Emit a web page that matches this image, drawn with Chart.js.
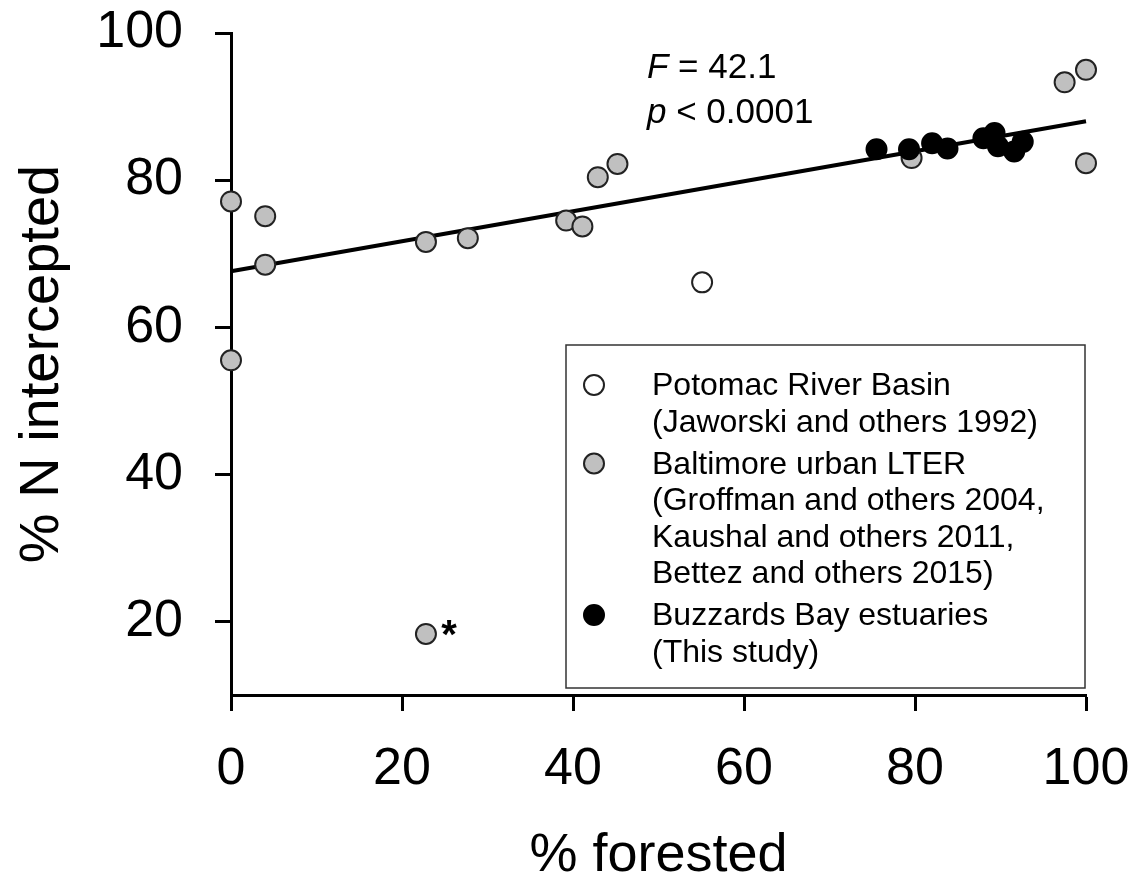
<!DOCTYPE html>
<html>
<head>
<meta charset="utf-8">
<script src="https://cdn.jsdelivr.net/npm/chart.js@4.4.0/dist/chart.umd.min.js"></script>
<style>
  html, body { margin: 0; padding: 0; background: #fff; }
  #wrap { width: 1139px; height: 884px; }
</style>
</head>
<body>
<div id="wrap"><canvas id="graph1" width="1139" height="884"></canvas></div>
<script>
// data
var potomacX = [55.1];
var potomacY = [66.1];
var baltimoreX = [0, 0, 4, 4, 22.8, 27.7, 39.2, 41.1, 42.9, 45.2, 22.8, 79.6, 97.5, 100, 100];
var baltimoreY = [77.1, 55.5, 75.1, 68.5, 71.6, 72.1, 74.5, 73.7, 80.4, 82.2, 18.3, 83.0, 93.3, 95.0, 82.3];
var buzzardsX = [75.5, 79.3, 82.0, 83.8, 88.0, 89.3, 89.7, 91.6, 92.6];
var buzzardsY = [84.2, 84.2, 85.0, 84.3, 85.7, 86.4, 84.6, 83.9, 85.2];
var fitX = [0, 100];
var fitY = [67.6, 88.0];
var xTicks = [0, 20, 40, 60, 80, 100];
var yTicks = [20, 40, 60, 80, 100];
var flaggedPoint = 10; // index in baltimore series marked with *

var legendLines = [
    ['Potomac River Basin', '(Jaworski and others 1992)'],
    ['Baltimore urban LTER', '(Groffman and others 2004,', 'Kaushal and others 2011,', 'Bettez and others 2015)'],
    ['Buzzards Bay estuaries', '(This study)']
];

var fam = '"Liberation Sans", Arial, Helvetica, sans-serif';

function pts(xs, ys) {
    return xs.map(function(x, i) { return {x: x, y: ys[i]}; });
}

var ctx = document.getElementById('graph1');

// legend box, F / p text and asterisk
var extras = {
    id: 'extras',
    afterDatasetsDraw: function(chart) {
        var c = chart.ctx, ca = chart.chartArea;
        var ds = chart.data.datasets;
        c.save();

        // stats text
        var tx = ca.left + 416, ty = ca.top + 45;
        c.fillStyle = '#000';
        c.textBaseline = 'alphabetic';
        c.textAlign = 'left';
        c.font = 'italic 35px ' + fam;
        c.fillText('F', tx, ty);
        var w = c.measureText('F').width;
        c.font = '35px ' + fam;
        c.fillText(' = 42.1', tx + w, ty);
        c.font = 'italic 35px ' + fam;
        c.fillText('p', tx, ty + 45);
        w = c.measureText('p').width;
        c.font = '35px ' + fam;
        c.fillText(' < 0.0001', tx + w, ty + 45);

        // asterisk
        var meta = chart.getDatasetMeta(2);
        var p = meta.data[flaggedPoint];
        c.font = 'bold 40px ' + fam;
        c.textAlign = 'center';
        c.fillText('*', p.x + 23, p.y + 14);

        // legend
        var bx = ca.left + 335, by = ca.top + 312;
        var bw = ca.right - 1 - bx, bh = ca.bottom - 7 - by;
        c.fillStyle = '#fff';
        c.fillRect(bx, by, bw, bh);
        c.strokeStyle = '#333';
        c.lineWidth = 1.5;
        c.strokeRect(bx, by, bw, bh);

        var order = [1, 2, 0]; // dataset index per legend group
        var base = by + 50;
        c.font = '32px ' + fam;
        c.textAlign = 'left';
        legendLines.forEach(function(group, g) {
            var d = ds[order[g]];
            c.beginPath();
            c.arc(bx + 28, base - 10, 10, 0, Math.PI * 2);
            c.fillStyle = d.backgroundColor;
            c.fill();
            c.lineWidth = 2;
            c.strokeStyle = d.borderColor;
            c.stroke();
            c.fillStyle = '#000';
            group.forEach(function(line) {
                c.fillText(line, bx + 86, base);
                base += 36.5;
            });
            base += 5.5;
        });
        c.restore();
    }
};

var data = {
    datasets: [
        {
            label: 'Buzzards Bay estuaries',
            data: pts(buzzardsX, buzzardsY),
            backgroundColor: '#000',
            borderColor: '#000',
            borderWidth: 2,
            pointRadius: 10
        },
        {
            label: 'Potomac River Basin',
            data: pts(potomacX, potomacY),
            backgroundColor: '#fff',
            borderColor: '#222',
            borderWidth: 2,
            pointRadius: 10
        },
        {
            label: 'Baltimore urban LTER',
            data: pts(baltimoreX, baltimoreY),
            backgroundColor: '#c0c0c0',
            borderColor: '#222',
            borderWidth: 2,
            pointRadius: 10
        },
        {
            label: 'fit',
            data: pts(fitX, fitY),
            showLine: true,
            borderColor: '#000',
            borderWidth: 4,
            pointRadius: 0
        }
    ]
};

var options = {
    responsive: false,
    animation: false,
    devicePixelRatio: 1,
    events: [],
    clip: false,
    layout: { padding: { left: 0, top: 33, right: 53, bottom: 0 } },
    plugins: { legend: { display: false }, tooltip: { enabled: false } },
    scales: {
        x: {
            type: 'linear',
            min: 0,
            max: 100,
            afterBuildTicks: function(s) { s.ticks = xTicks.map(function(v) { return {value: v}; }); },
            afterFit: function(s) { s.height = 189; s.paddingLeft = 0; s.paddingRight = 0; },
            ticks: { font: { size: 52, family: fam }, color: '#000', padding: 27, maxRotation: 0, autoSkip: false },
            grid: { drawOnChartArea: false, drawTicks: true, tickLength: 16, tickWidth: 3, tickColor: '#000' },
            border: { display: true, color: '#000', width: 3 },
            title: { display: true, text: '% forested', color: '#000', font: { size: 54, family: fam, lineHeight: 1 }, padding: { top: 0, bottom: 1 } }
        },
        y: {
            type: 'linear',
            min: 10,
            max: 100,
            afterBuildTicks: function(s) { s.ticks = yTicks.map(function(v) { return {value: v}; }); },
            afterFit: function(s) { s.width = 231; s.paddingTop = 0; s.paddingBottom = 0; },
            ticks: { font: { size: 52, family: fam }, color: '#000', padding: 32 },
            grid: { drawOnChartArea: false, drawTicks: true, tickLength: 16, tickWidth: 3, tickColor: '#000' },
            border: { display: true, color: '#000', width: 3 },
            title: { display: true, text: '% N intercepted', color: '#000', font: { size: 56, family: fam, lineHeight: 1 }, padding: { top: 15, bottom: 0 } }
        }
    }
};

var myChart = new Chart(ctx, {
    type: 'scatter',
    data: data,
    options: options,
    plugins: [extras]
});
</script>
</body>
</html>
